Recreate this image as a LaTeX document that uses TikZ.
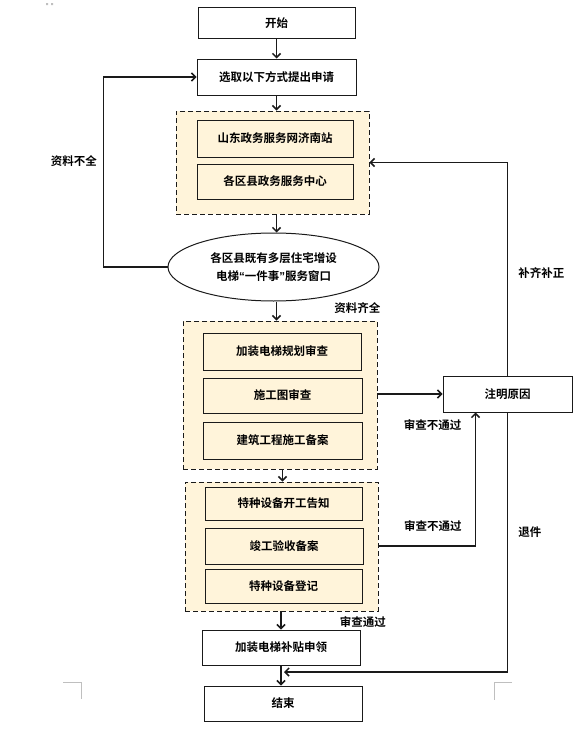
\documentclass[tikz,border=0pt]{standalone}
\usepackage{fontspec}
\setmainfont{Noto Sans CJK SC}[BoldFont={Noto Sans CJK SC Bold}]
\newfontfamily\quotefont{Liberation Sans}
\usetikzlibrary{arrows.meta,shapes.geometric}
\definecolor{Ink}{HTML}{1A1A1A}
\definecolor{Cream}{HTML}{FFF4DA}
\definecolor{Crop}{HTML}{BFBFBF}
\tikzset{
  stage/.style={
    draw=Ink, line width=1pt, fill=white,
    minimum width=157pt, minimum height=35pt, inner sep=0pt, align=center
  },
  substage/.style={stage, fill=Cream},
  panel/.style={
    draw=Ink, line width=0.9pt, dash pattern=on 5pt off 3pt, fill=Cream,
    inner sep=0pt
  },
  portal/.style={
    ellipse, draw=Ink, line width=1pt, fill=white,
    minimum width=211pt, minimum height=68pt, inner sep=0pt, align=center
  },
  flow/.style={-{Straight Barb[length=4pt,width=8pt]}, line width=1.5pt, draw=Ink},
  tag/.style={inner sep=1pt},
  cropmark/.style={draw=Crop, line width=0.8pt}
}

\begin{document}
\begin{tikzpicture}[x=1pt,y=-1pt,font=\fontsize{11.5}{18}\selectfont\bfseries]
    \useasboundingbox (0,0) rectangle (575,736);
    % page marks
    \fill[Crop] (46,3) rectangle (48,5) (51,3) rectangle (53,5);
    \draw[cropmark] (63,682) -- (81,682) -- (81,699);
    \draw[cropmark] (512,682) -- (494,682) -- (494,700);
    % main column
    \node[stage,minimum width=157pt,minimum height=31pt] (start) at (276.5,23) {开始};
    \node[stage,minimum width=159pt,minimum height=36pt] (apply) at (276.5,77) {选取以下方式提出申请};
    \node[panel,minimum width=193pt,minimum height=103pt] (online) at (272.5,162.5) {};
    \node[substage,minimum width=156pt,minimum height=37pt] (web) at (275,138.5) {山东政务服务网济南站};
    \node[substage,minimum width=156pt,minimum height=35pt] (hall) at (275,181.5) {各区县政务服务中心};
    \node[portal] (window) at (273.5,267) {各区县既有多层住宅增设\\电梯{\quotefont“}一件事{\quotefont”}服务窗口};
    \node[panel,minimum width=194pt,minimum height=148pt] (review) at (280,395) {};
    \node[substage,minimum width=158pt,minimum height=37pt] (plan) at (282,351.5) {加装电梯规划审查};
    \node[substage,minimum width=159pt,minimum height=35pt] (drawing) at (282.5,395.5) {施工图审查};
    \node[substage,minimum width=159pt,minimum height=37pt] (filing) at (282.5,440.5) {建筑工程施工备案};
    \node[panel,minimum width=193pt,minimum height=129pt] (check) at (281.5,546.5) {};
    \node[substage,minimum width=157pt,minimum height=33pt] (notify) at (283.5,503.5) {特种设备开工告知};
    \node[substage,minimum width=158pt,minimum height=36pt] (accept) at (284,546) {竣工验收备案};
    \node[substage,minimum width=157pt,minimum height=34pt] (register) at (283.5,586) {特种设备登记};
    \node[stage,minimum width=158pt,minimum height=35pt] (subsidy) at (281,647.5) {加装电梯补贴申领};
    \node[stage,minimum width=158pt,minimum height=35pt] (finish) at (283,703.5) {结束};
    % side box
    \node[stage,minimum width=129pt,minimum height=36pt] (reason) at (507.5,394) {注明原因};
    \coordinate (merge) at (284,672);
    % connectors
    \draw[flow] (start.south) -- (start.south |- apply.north);
    \draw[flow] (apply.south) -- (apply.south |- online.north);
    \draw[flow] (online.south -| apply.south) -- (apply.south |- window.north);
    \draw[flow] (apply.south |- window.south) -- (apply.south |- review.north)
      node[tag,pos=0.35,right=56pt] {资料齐全};
    \draw[flow] (review.south -| drawing.south) -- (drawing.south |- check.north);
    \draw[flow] (check.south -| subsidy.south) -- (subsidy.north)
      node[tag,pos=0.58,right=57pt] {审查通过};
    \draw[flow] (subsidy.south) -- (subsidy.south |- finish.north);
    \draw[flow] (window.west) -- ++(-64,0) |- (apply.west)
      node[tag,pos=0.28,left=5pt] {资料不全};
    \draw[flow] (reason.north) |- (online.east)
      node[tag,pos=0.24,right=9pt] {补齐补正};
    \draw[flow] (reason.south) |- (merge)
      node[tag,pos=0.23,right=9pt] {退件};
    \draw[flow] (review.east |- reason.west) -- (reason.west)
      node[tag,pos=0.85,below=24pt] {审查不通过};
    \draw[flow] (check.east |- accept.east) -| ([xshift=-32pt]reason.south)
      node[tag,pos=0.28,above=13pt] {审查不通过};
  \end{tikzpicture}
\end{document}
